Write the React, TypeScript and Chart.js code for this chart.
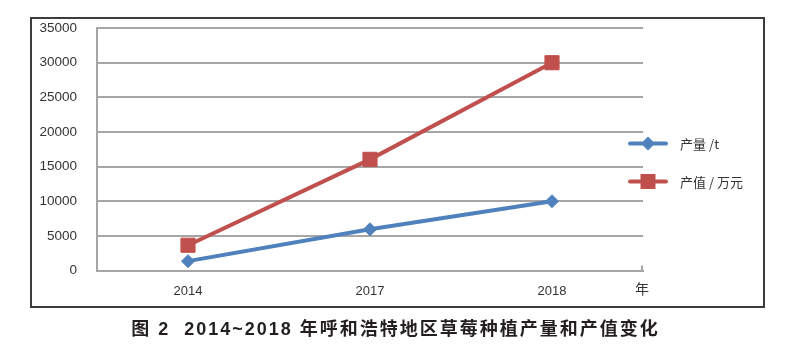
import React, { useEffect, useRef } from "react";
import { Chart, registerables } from "chart.js";

Chart.register(...registerables);

const categories = ["2014", "2017", "2018"];
const yieldValues = [1350, 5950, 10000];
const outputValues = [3650, 16050, 30000];
const yMin = 0;
const yMax = 35000;
const yStep = 5000;
const seriesNames = ["产量 /t", "产值 / 万元"];
const xUnit = "年";
const caption = "图 2  2014~2018 年呼和浩特地区草莓种植产量和产值变化";

const BLUE = "#4F81BD";
const RED = "#C0504D";
const GRID = "#a6a6a6";
const TEXT = "#333333";
const FONT = "'Liberation Sans', Arial, sans-serif";

const CA = { left: 97, right: 643, top: 27.5, bottom: 270.5 };

function drawMarker(ctx: CanvasRenderingContext2D, style: string, x: number, y: number, color: string) {
  ctx.save();
  ctx.fillStyle = color;
  ctx.beginPath();
  if (style === "rectRot") {
    const r = 7;
    ctx.moveTo(x, y - r);
    ctx.lineTo(x + r, y);
    ctx.lineTo(x, y + r);
    ctx.lineTo(x - r, y);
    ctx.closePath();
  } else {
    const s = 7.5;
    ctx.rect(x - s, y - s, 2 * s, 2 * s);
  }
  ctx.fill();
  ctx.restore();
}

const extrasPlugin = {
  id: "extras",
  afterDraw(chart: any) {
    const ctx: CanvasRenderingContext2D = chart.ctx;
    const area = chart.chartArea;
    ctx.save();
    ctx.strokeStyle = GRID;
    ctx.lineWidth = 2;
    ctx.beginPath();
    ctx.moveTo(area.right - 1, area.bottom - 5);
    ctx.lineTo(area.right - 1, area.bottom);
    ctx.stroke();
    ctx.fillStyle = TEXT;
    ctx.font = "14px 'Noto Sans CJK SC', sans-serif";
    ctx.textAlign = "center";
    ctx.textBaseline = "middle";
    ctx.fillText(xUnit, area.right - 1, 289);
    const ys = [143.5, 181.5];
    chart.data.datasets.forEach((ds: any, i: number) => {
      const y = ys[i];
      ctx.strokeStyle = ds.borderColor;
      ctx.lineWidth = 4;
      ctx.lineCap = "round";
      ctx.beginPath();
      ctx.moveTo(630, y);
      ctx.lineTo(666, y);
      ctx.stroke();
      drawMarker(ctx, ds.pointStyle, 648, y, ds.borderColor);
      ctx.fillStyle = TEXT;
      ctx.font = "13px 'Noto Sans CJK SC', " + FONT;
      ctx.textAlign = "left";
      ctx.textBaseline = "middle";
      ctx.fillText(ds.label, 680, y + 1);
    });
    ctx.restore();
  },
};

export default function App() {
  const ref = useRef<HTMLCanvasElement | null>(null);

  useEffect(() => {
    if (!ref.current) return;
    const chart = new Chart(ref.current, {
      type: "line",
      data: {
        labels: categories,
        datasets: [
          {
            label: seriesNames[0],
            data: yieldValues,
            borderColor: BLUE,
            backgroundColor: BLUE,
            borderWidth: 4,
            pointStyle: "rectRot",
            pointRadius: 6.5,
            pointHoverRadius: 6.5,
            pointBorderWidth: 1,
            pointBackgroundColor: BLUE,
            pointBorderColor: BLUE,
            tension: 0,
          },
          {
            label: seriesNames[1],
            data: outputValues,
            borderColor: RED,
            backgroundColor: RED,
            borderWidth: 4,
            pointStyle: "rect",
            pointRadius: 10,
            pointHoverRadius: 10,
            pointBorderWidth: 1,
            pointBackgroundColor: RED,
            pointBorderColor: RED,
            tension: 0,
          },
        ],
      },
      options: {
        animation: false,
        responsive: false,
        maintainAspectRatio: false,
        layout: { padding: { left: 0, right: 791 - CA.right, top: CA.top, bottom: 0 } },
        plugins: { legend: { display: false }, tooltip: { enabled: false }, title: { display: false } },
        scales: {
          x: {
            type: "category",
            offset: true,
            grid: { display: false, drawTicks: false },
            border: { display: true, color: GRID, width: 2 },
            ticks: { color: TEXT, font: { family: FONT, size: 13 }, padding: 13 },
            afterFit: (s: any) => {
              s.height = 354 - CA.bottom;
            },
          },
          y: {
            min: yMin,
            max: yMax,
            grid: { color: GRID, lineWidth: 2, drawTicks: false },
            border: { display: true, color: GRID, width: 2 },
            ticks: {
              stepSize: yStep,
              color: TEXT,
              font: { family: FONT, size: 13.5 },
              padding: 20,
              callback: (v: any) => String(v),
            },
            afterFit: (s: any) => {
              s.width = CA.left;
            },
          },
        },
      },
      plugins: [extrasPlugin],
    } as any);
    return () => chart.destroy();
  }, []);

  return (
    <div style={{ position: "absolute", left: 0, top: 0, width: 791, height: 354, background: "#fff" }}>
      <div
        style={{
          position: "absolute",
          left: 30,
          top: 17,
          width: 735,
          height: 291,
          boxSizing: "border-box",
          border: "2px solid #3c3c3c",
        }}
      />
      <canvas ref={ref} width={791} height={354} style={{ position: "absolute", left: 0, top: 0, width: 791, height: 354 }} />
      <div
        style={{
          position: "absolute",
          left: 0,
          top: 317,
          width: 791,
          textAlign: "center",
          fontFamily: "'Liberation Sans', 'Noto Sans CJK SC', sans-serif",
          fontWeight: "bold",
          fontSize: 18,
          lineHeight: "24px",
          letterSpacing: "2px",
          color: "#231f20",
          whiteSpace: "pre",
        }}
      >
        {caption}
      </div>
    </div>
  );
}
